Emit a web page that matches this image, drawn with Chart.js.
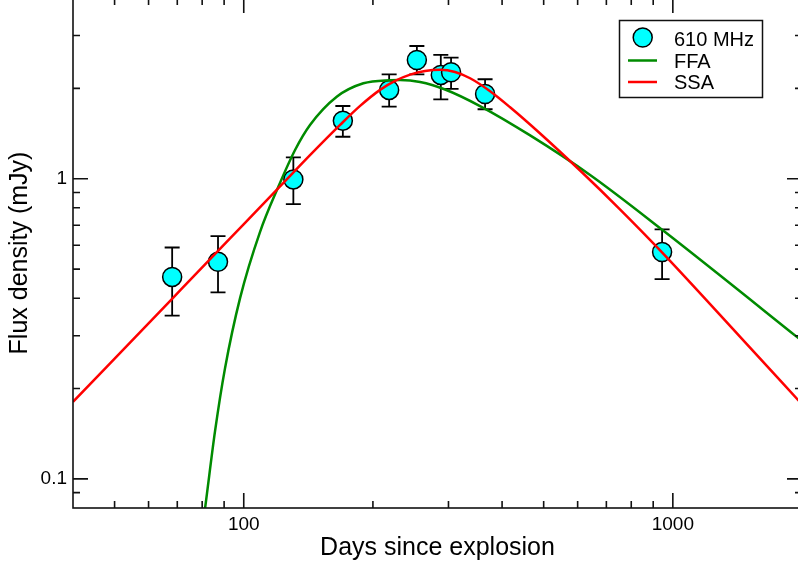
<!DOCTYPE html>
<html><head><meta charset="utf-8">
<script src="https://cdn.jsdelivr.net/npm/chart.js@4/dist/chart.umd.min.js"></script>
<style>
html,body{margin:0;padding:0;background:#fff;overflow:hidden}
#wrap{position:relative;width:798px;height:567px;overflow:hidden}
#c{position:absolute;left:0;top:-2px}
</style>
</head><body><div id="wrap"><canvas id="c" width="802" height="569"></canvas></div>
<script>
// ---- data ----
const days   = [68.1, 87.1, 130.5, 170.2, 218.2, 253.2, 287.9, 304.2, 365.1, 944];
const flux   = [0.471, 0.529, 0.995, 1.561, 1.976, 2.487, 2.217, 2.263, 1.916, 0.570];
const fluxLo = [0.350, 0.418, 0.823, 1.380, 1.738, 2.228, 1.839, 1.991, 1.704, 0.463];
const fluxHi = [0.590, 0.644, 1.178, 1.747, 2.228, 2.768, 2.584, 2.532, 2.145, 0.678];

const ffaDays = [79.95, 81.25, 85.72, 90.45, 98.04, 109.1, 120.4, 131.7, 142.7, 164.7, 190.0, 219.3, 231.4, 257.6, 294.6, 355.4, 465.0, 641.5, 949.3, 1949, 2002];
const ffaFlux = [0.0675, 0.0798, 0.1442, 0.2339, 0.4002, 0.6643, 0.9404, 1.2466, 1.510, 1.876, 2.080, 2.130, 2.133, 2.101, 1.983, 1.746, 1.394, 1.029, 0.6721, 0.2967, 0.2877];

const ssaDays = [40.0, 68.43, 92.91, 121.5, 142.7, 167.7, 186.7, 207.8, 225.3, 244.2, 264.6, 286.9, 310.8, 336.9, 375.1, 417.6, 490.6, 607.9, 753.9, 934.1, 1435, 2002];
const ssaFlux = [0.1806, 0.4013, 0.6324, 0.9426, 1.198, 1.511, 1.748, 1.977, 2.118, 2.222, 2.286, 2.308, 2.268, 2.161, 1.956, 1.730, 1.415, 1.065, 0.7896, 0.5773, 0.2974, 0.1770];

const xMajor = [100, 1000];
const xMinor = [50, 60, 70, 80, 90, 200, 300, 400, 500, 600, 700, 800, 900, 2000];
const yMajor = [0.1, 1];
const yMinor = [0.09, 0.2, 0.3, 0.4, 0.5, 0.6, 0.7, 0.8, 0.9, 2, 3, 4];

const seriesLabels = ['610 MHz', 'FFA', 'SSA'];
const xTitle = 'Days since explosion';
const yTitle = 'Flux density (mJy)';

const FONT = "'Liberation Sans', Arial, Helvetica, sans-serif";
const GREEN = '#008B00', RED = '#FF0000', CYAN = '#00FFFF';
const OY = 2; // canvas is shifted up by 2px in the page

const toXY = (xs, ys) => xs.map((v, i) => ({x: v, y: ys[i]}));
const noPad = s => { s.paddingLeft = 0; s.paddingRight = 0; s.paddingTop = 0; s.paddingBottom = 0; };

const errorBars = {
  id: 'errorBars',
  beforeDatasetsDraw(chart) {
    const {ctx, chartArea: a, scales: {x, y}} = chart;
    ctx.save();
    ctx.beginPath(); ctx.rect(a.left, a.top, a.right - a.left, a.bottom - a.top); ctx.clip();
    ctx.strokeStyle = '#000'; ctx.lineWidth = 1.8;
    days.forEach((d, i) => {
      const px = x.getPixelForValue(d);
      const p1 = y.getPixelForValue(fluxLo[i]);
      const p2 = y.getPixelForValue(fluxHi[i]);
      ctx.beginPath();
      ctx.moveTo(px, p1); ctx.lineTo(px, p2);
      ctx.moveTo(px - 7.5, p1); ctx.lineTo(px + 7.5, p1);
      ctx.moveTo(px - 7.5, p2); ctx.lineTo(px + 7.5, p2);
      ctx.stroke();
    });
    ctx.restore();
  }
};

const frameTicks = {
  id: 'frameTicks',
  afterDraw(chart) {
    const {ctx, chartArea: a, scales: {x, y}} = chart;
    ctx.save();
    ctx.strokeStyle = '#111'; ctx.lineWidth = 1.6;
    ctx.strokeRect(a.left, a.top, a.right - a.left, a.bottom - a.top);
    ctx.beginPath();
    const xt = (v, len) => { const p = x.getPixelForValue(v);
      ctx.moveTo(p, a.bottom); ctx.lineTo(p, a.bottom - len);
      ctx.moveTo(p, a.top); ctx.lineTo(p, a.top + len); };
    const yt = (v, len) => { const p = y.getPixelForValue(v);
      ctx.moveTo(a.left, p); ctx.lineTo(a.left + len, p);
      ctx.moveTo(a.right, p); ctx.lineTo(a.right - len, p); };
    xMajor.forEach(v => xt(v, 15)); xMinor.forEach(v => xt(v, 7));
    yMajor.forEach(v => yt(v, 15)); yMinor.forEach(v => yt(v, 7));
    ctx.stroke();

    // legend box
    const lx = 619.5, ly = 20.5 + OY, lw = 143, lh = 77;
    ctx.fillStyle = '#fff'; ctx.fillRect(lx, ly, lw, lh);
    ctx.lineWidth = 1.5; ctx.strokeStyle = '#111'; ctx.strokeRect(lx, ly, lw, lh);
    ctx.beginPath(); ctx.arc(642.7, 37.5 + OY, 9.5, 0, Math.PI * 2);
    ctx.fillStyle = CYAN; ctx.fill(); ctx.lineWidth = 1.5; ctx.strokeStyle = '#000'; ctx.stroke();
    ctx.lineWidth = 2.5;
    ctx.strokeStyle = GREEN; ctx.beginPath(); ctx.moveTo(628, 60.5 + OY); ctx.lineTo(657, 60.5 + OY); ctx.stroke();
    ctx.strokeStyle = RED; ctx.beginPath(); ctx.moveTo(628, 82 + OY); ctx.lineTo(657, 82 + OY); ctx.stroke();
    ctx.fillStyle = '#000'; ctx.font = '20px ' + FONT; ctx.textBaseline = 'alphabetic'; ctx.textAlign = 'left';
    ctx.fillText(seriesLabels[0], 674, 45.5 + OY);
    ctx.fillText(seriesLabels[1], 674, 67.5 + OY);
    ctx.fillText(seriesLabels[2], 674, 89 + OY);
    ctx.restore();
  }
};

new Chart(document.getElementById('c'), {
  type: 'line',
  data: {
    datasets: [
      {label: seriesLabels[2], data: toXY(ssaDays, ssaFlux), borderColor: RED, borderWidth: 2.5,
       pointRadius: 0, fill: false, cubicInterpolationMode: 'monotone', order: 0},
      {label: seriesLabels[1], data: toXY(ffaDays, ffaFlux), borderColor: GREEN, borderWidth: 2.5,
       pointRadius: 0, fill: false, cubicInterpolationMode: 'monotone', order: 1},
      {label: seriesLabels[0], data: toXY(days, flux), showLine: false, pointStyle: 'circle',
       pointRadius: 9.5, pointBackgroundColor: CYAN, pointBorderColor: '#000', pointBorderWidth: 1.5, order: 2}
    ]
  },
  options: {
    responsive: false, animation: false, devicePixelRatio: 1,
    layout: {padding: 0, autoPadding: false},
    plugins: {legend: {display: false}, tooltip: {enabled: false}},
    scales: {
      x: {
        type: 'logarithmic', min: 40, max: 2000,
        afterBuildTicks: s => { s.ticks = [...xMajor, ...xMinor].sort((a, b) => a - b).map(v => ({value: v})); },
        afterFit: s => { s.height = 59; noPad(s); },
        grid: {display: false, drawTicks: false}, border: {display: false},
        ticks: {autoSkip: false, maxRotation: 0, padding: 5, color: '#000', font: {family: FONT, size: 19},
                callback: v => xMajor.includes(v) ? String(v) : null},
        title: {display: true, text: xTitle, color: '#000', font: {family: FONT, size: 25}, padding: {top: 0, bottom: 4}}
      },
      y: {
        type: 'logarithmic', min: 0.08, max: 4,
        afterBuildTicks: s => { s.ticks = [...yMajor, ...yMinor].sort((a, b) => a - b).map(v => ({value: v})); },
        afterFit: s => { s.width = 73; noPad(s); },
        grid: {display: false, drawTicks: false}, border: {display: false},
        ticks: {autoSkip: false, padding: 6, color: '#000', font: {family: FONT, size: 19},
                callback: v => yMajor.includes(v) ? String(v) : null},
        title: {display: true, text: yTitle, color: '#000', font: {family: FONT, size: 25}, padding: {top: 5, bottom: 0}}
      }
    }
  },
  plugins: [errorBars, frameTicks]
});
</script></body></html>
